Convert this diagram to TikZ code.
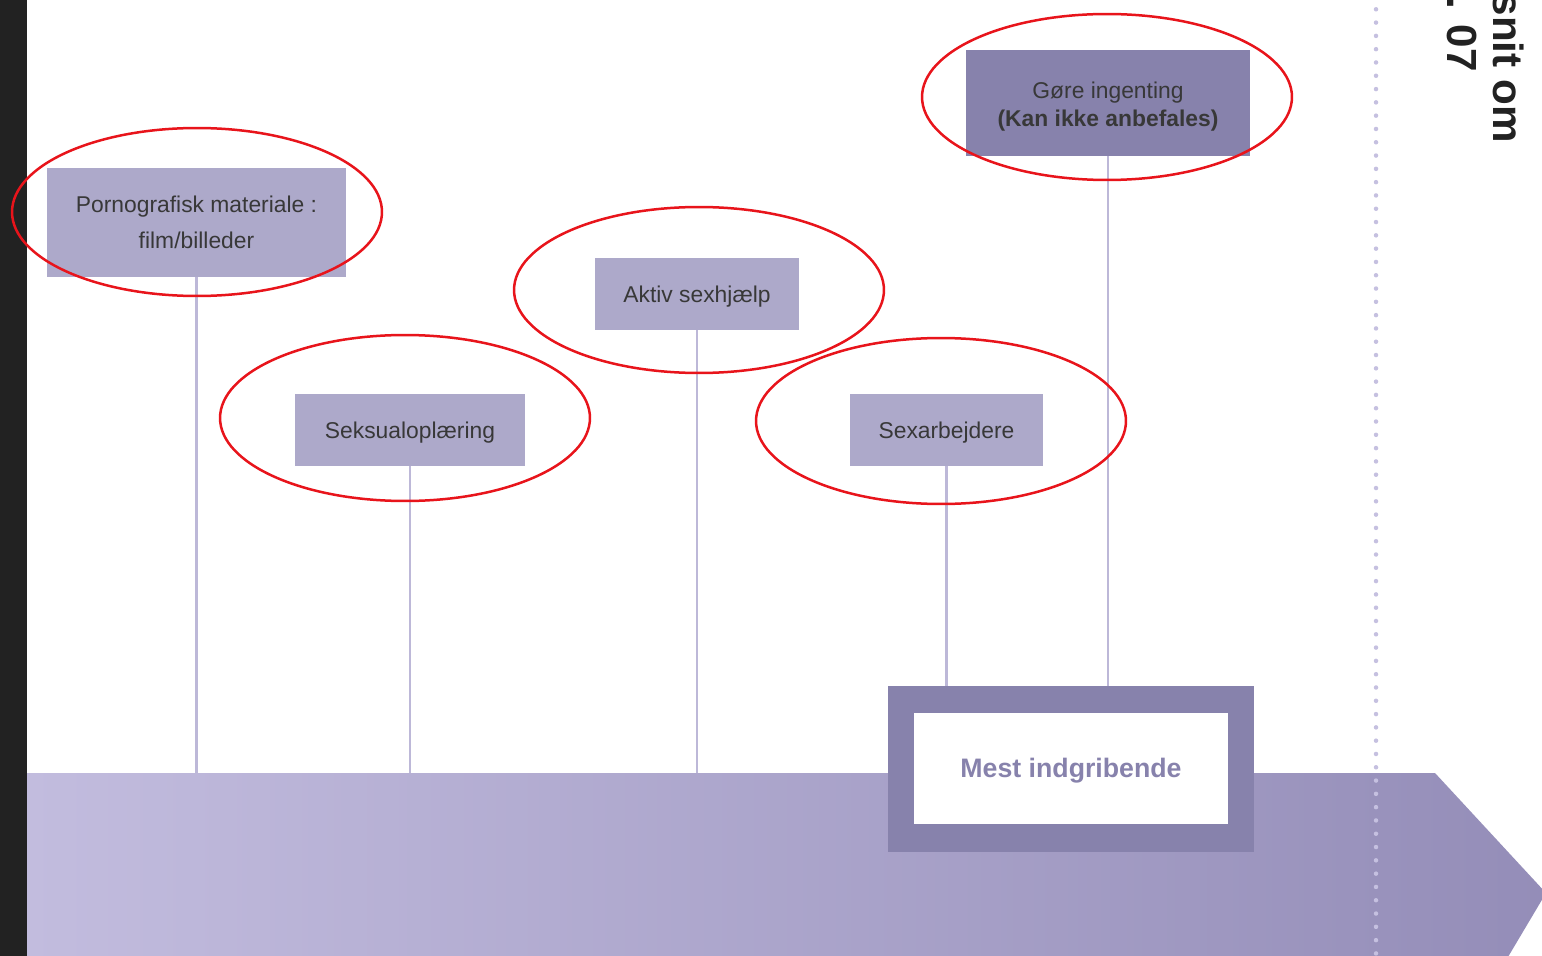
\documentclass[tikz,border=0pt]{standalone}
\usepackage{fontspec}
\setmainfont{Liberation Sans}
\definecolor{darkband}{HTML}{222222}
\definecolor{boxlight}{HTML}{ADA9CA}
\definecolor{boxdark}{HTML}{8782AC}
\definecolor{conncol}{HTML}{BDB8D8}
\definecolor{bandleft}{HTML}{C2BCDE}
\definecolor{bandright}{HTML}{948DB8}
\definecolor{dotcol}{HTML}{C5C0E0}
\definecolor{txt}{HTML}{383838}
\definecolor{annot}{HTML}{E8141B}
\begin{document}
\begin{tikzpicture}[x=0.02cm,y=-0.02cm,
  lbox/.style={fill=boxlight, draw=none, inner sep=0pt, minimum height=1.44cm,
    text=txt, font=\fontsize{13}{20.4}\selectfont, align=center},
  onel/.style={text height=1.15em, text depth=0.21em},
  dbox/.style={fill=boxdark, draw=none, inner sep=0pt},
  dtext/.style={inner sep=0pt, text=txt, font=\fontsize{13}{15.9}\selectfont, align=center},
  conn/.style={draw=conncol, line width=0.05cm},
  annotring/.style={draw=annot, line width=0.05cm},
  sidetext/.style={rotate=-90, inner sep=0pt, text=darkband, font=\fontsize{24}{26}\selectfont\bfseries}
]
\useasboundingbox (0,0) rectangle (1542,956);
\clip (0,0) rectangle (1542,956);
\fill[white] (0,0) rectangle (1542,956);

% dark left strip
\fill[darkband] (0,0) rectangle (27,956);

% band arrow
\shade[left color=bandleft, right color=bandright]
  (27,773) -- (1435,773) -- (1546,893) -- (1505,962) -- (27,962) -- cycle;

% dotted separator
\draw[dotcol, line width=0.09cm, line cap=round, dash pattern=on 0pt off 0.266cm]
  (1376,-4) -- (1376,962);

% side text
\node[sidetext, anchor=base east] (side1) at (1493,143) {snit om};
\node[sidetext, anchor=base east] (side2) at (1447,72) {s. 07};

\coordinate (bandtop) at (0,773);

% boxes
\node[lbox, minimum width=5.98cm, minimum height=2.18cm] (b1) at (196.5,222.5)
  {Pornografisk materiale :\\film/billeder};
\node[lbox, onel, minimum width=4.6cm] (b2) at (410,430) {Seksualoplæring};
\node[lbox, onel, minimum width=4.08cm] (b3) at (697,294) {Aktiv sexhjælp};
\node[lbox, onel, minimum width=3.86cm] (b4) at (946.5,430) {Sexarbejdere};
\node[dbox, minimum width=5.68cm, minimum height=2.12cm] (b5) at (1108,103) {};
\node[dtext] (b5t) at (1108,107) {Gøre ingenting\\\textbf{(Kan ikke anbefales)}};

% most intrusive box
\node[fill=boxdark, inner sep=0pt, minimum width=7.32cm, minimum height=3.32cm] (mest) at (1071,769) {};
\node[fill=white, inner sep=0pt, minimum width=6.28cm, minimum height=2.22cm,
  text height=1.22em, text depth=0.22em,
  text=boxdark, font=\fontsize{15.2}{17}\selectfont\bfseries] (mestin) at (1071,768.5) {Mest indgribende};

% connectors
\draw[conn] (b1.south) -- (b1.south |- bandtop);
\draw[conn] (b2.south) -- (b2.south |- bandtop);
\draw[conn] (b3.south) -- (b3.south |- bandtop);
\draw[conn] (b4.south) -- (b4.south |- mest.north);
\draw[conn] (b5.south) -- (b5.south |- mest.north);

% red annotation rings
\draw[annotring] (197,212) ellipse [x radius=3.7cm, y radius=1.68cm];
\draw[annotring] (405,418) ellipse [x radius=3.7cm, y radius=1.66cm];
\draw[annotring] (699,290) ellipse [x radius=3.7cm, y radius=1.66cm];
\draw[annotring] (941,421) ellipse [x radius=3.7cm, y radius=1.66cm];
\draw[annotring] (1107,97) ellipse [x radius=3.7cm, y radius=1.66cm];
\end{tikzpicture}
\end{document}
